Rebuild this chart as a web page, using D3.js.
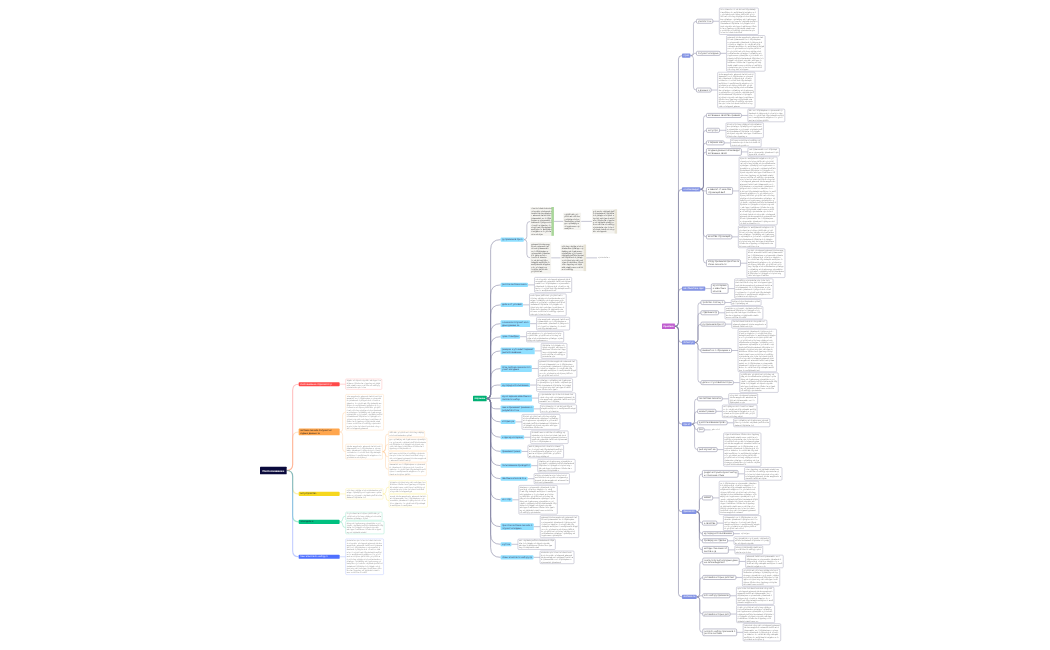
<!DOCTYPE html>
<html>
<head>
<meta charset="utf-8">
<script src="https://cdn.jsdelivr.net/npm/d3@7"></script>
<style>
  html, body { margin: 0; padding: 0; background: #fff; }
  svg { display: block; filter: blur(0.22px); }
  text { font-family: "Liberation Sans", sans-serif; text-rendering: geometricPrecision; }
</style>
</head>
<body>
<svg id="chart" width="1050" height="650"></svg>
<script>
// the words in the reference are too small to read, only their amount is taken from it
// every node is [characters per line, number of lines, children, kind]
var passage = "Распознавание образов это раздел который изучает методы отнесения объектов к одному из заранее известных классов по набору признаков при этом система сначала получает исходные данные затем выделяет важные свойства сравнивает их с образцами и принимает решение о результате точность зависит от качества обучающей выборки от выбранной модели и от условий в которых работает устройство поэтому перед использованием проводят проверку на отдельных примерах и уточняют параметры";

// left map
var leftRed = [27, 1, [[32, 4]]];
var leftOrange = [27, 2, [[32, 15], [32, 6, [[33, 2], [33, 5], [33, 4], [33, 5]]]]];
var leftYellow = [15, 1, [[32, 4, [[33, 5], [33, 5]]]]];
var leftGreen = [11, 1, [[32, 3], [32, 5]]];
var leftBlue = [24, 1, [[32, 15]]];
var leftBranches = [leftRed, leftOrange, leftYellow, leftGreen, leftBlue];

// middle map
var midPictures = [18, 1, [
  [19, 12, [[14, 7, [[20, 10, null, "tan"]], "pic"]], "green"],
  [16, 13, [[20, 11, [[11, 1, null, "plain"]], "tan"]], "pic"]
]];
var midLabelChars = [21, 18, 23, 14, 26, 24, 22, 25, 25, 10, 18, 14, 23, 21, 8, 26, 7, 26];
var midLabelLines = [1, 1, 2, 1, 2, 2, 1, 2, 2, 1, 1, 1, 1, 1, 1, 2, 1, 1];
var midNoteChars = [32, 31, 28, 32, 22, 32, 31, 32, 30, 32, 32, 31, 31, 30, 32, 32, 31, 29];
var midNoteLines = [6, 9, 5, 4, 6, 7, 5, 4, 3, 6, 5, 5, 5, 4, 12, 9, 4, 5];

// right map
var rightA = [5, 1, [
  [12, 1, [[33, 11]]], [18, 1, [[32, 15]]], [10, 1, [[32, 15]]]
]];
var rightB = [13, 1, [
  [27, 1, [[32, 5]]], [9, 1, [[32, 6]]], [13, 1, [[27, 3]]], [26, 2, [[27, 3]]],
  [22, 2, [[32, 29]]], [18, 1, [[32, 9]]], [27, 2, [[32, 12]]]
]];
var rightC = [18, 1, [[12, 3, [[33, 8]]]]];
var rightD = [9, 1, [
  [18, 1, [[25, 2]]], [12, 1, [[32, 5]]], [19, 1, [[30, 3]]], [25, 1, [[32, 18]]], [26, 1, [[32, 8]]]
]];
var rightE = [6, 1, [
  [18, 1, [[24, 4]]], [12, 1, [[30, 5]]], [22, 1, [[31, 3]]], [3, 1, [[8, 1, null, "plain"]]], [14, 1, [[32, 14]]]
]];
var rightF = [10, 1, [
  [28, 2, [[32, 5]]], [6, 1, [[33, 14]]], [10, 1, [[31, 6]]], [23, 1, [[8, 1, null, "plain"]]],
  [19, 1, [[31, 3]]], [19, 2, [[24, 3]]]
]];
var rightG = [10, 1, [
  [28, 2, [[32, 5]]], [27, 1, [[32, 7]]], [21, 1, [[32, 7]]], [21, 1, [[32, 7]]], [27, 2, [[32, 7]]]
]];
var rightBranches = [rightA, rightB, rightC, rightD, rightE, rightF, rightG];

var midBranches = [midPictures].concat(midLabelChars.map(function (c, i) {
  return [c, midLabelLines[i], [[midNoteChars[i], midNoteLines[i]]]];
}));

var leftFill = d3.scaleOrdinal().domain(d3.range(5)).range(["#ff4a4a", "#ffa64d", "#f6d71e", "#00c080", "#4f70ff"]);
var leftInk = d3.scaleOrdinal().domain(d3.range(5)).range(["#fff", "#222", "#333", "#123", "#fff"]);

var maps = [
  { rootText: "Распознавание", branches: leftBranches, rootX: 260, top: 379,
    rootFill: "#0a0a3c", rootSize: 2.9, rootPad: 2.4, gaps: [5, 1, 1, 1], hGap: [12, 6, 6, 6], labelDepth: 1, minLabel: 41 },
  { rootText: "Обучение", branches: midBranches, rootX: 473, top: 204.5,
    rootFill: "#00b074", rootSize: 2.2, rootPad: 1.5, gaps: [1.5, 1.5, 1.5, 1.5], hGap: [14, 6.5, 9.5, 11], labelDepth: 1, minLabel: 0 },
  { rootText: "Практика", branches: rightBranches, rootX: 662, top: 8,
    rootFill: "#c060d0", rootSize: 2.2, rootPad: 1.5, gaps: [1.2, 1, 1, 1], hGap: [7, 6, 6.5, 6.5], labelDepth: 2, minLabel: 0 }
];

var svg = d3.select("#chart");
var cursor = 0;

function takeWords(n) {
  // next n characters of the passage, no blank at the start
  var out = "";
  while (out.length < n) {
    var c = passage[cursor % passage.length];
    cursor++;
    if (out.length === 0 && c === " ") continue;
    out += c;
  }
  return out;
}

function makeLines(chars, count) {
  var rows = [];
  for (var i = 0; i < count; i++) {
    var n = (i === count - 1 && count > 1) ? Math.round(chars * 0.6) : chars;
    rows.push(takeWords(n));
  }
  return rows;
}

function linkPath(x0, y0, x1, y1, bend) {
  var p = d3.path();
  var dy = y1 - y0;
  var xm = x0 + Math.min(bend, (x1 - x0) / 2);
  if (Math.abs(dy) < 0.5) {
    p.moveTo(x0, y0);
    p.lineTo(x1, y1);
    return p.toString();
  }
  var s = dy > 0 ? 1 : -1;
  var r = Math.min(x1 - xm, Math.abs(dy) / 2);
  var r0 = Math.min(xm - x0, Math.abs(dy) / 2);
  p.moveTo(x0, y0);
  p.quadraticCurveTo(xm, y0, xm, y0 + s * r0);
  p.lineTo(xm, y1 - s * r);
  p.quadraticCurveTo(xm, y1, xm + r, y1);
  p.lineTo(x1, y1);
  return p.toString();
}

function drawMap(cfg, mapIndex) {
  var root = d3.hierarchy([0, 0, cfg.branches], function (d) { return d[2]; });
  var gLinks = svg.append("g");
  var gNodes = svg.append("g");

  root.eachBefore(function (n) {
    var kind = n.data[3] || "note";
    n.kind = n.depth === 0 ? "root" : (n.depth <= cfg.labelDepth ? "label" : kind);
    n.branch = n.depth === 0 ? 0 : (n.depth === 1 ? n.parent.children.indexOf(n) : n.parent.branch);
    var isLabel = n.kind === "label" || n.kind === "root";
    var size = n.kind === "root" ? cfg.rootSize : (isLabel ? 2.3 : 2.12);
    var lead = isLabel ? 2.7 : 2.3;
    var rows = n.kind === "root" ? [cfg.rootText] : makeLines(n.data[0], n.data[1]);
    n.g = gNodes.append("g");
    n.box = n.g.append("rect");
    var txt = n.g.append("text").attr("font-size", size)
      .attr("font-weight", n.kind === "root" ? 700 : 400);
    var maxW = 0;
    rows.forEach(function (row, i) {
      var ts = txt.append("tspan").text(row).attr("y", lead * i + size * 0.85);
      maxW = Math.max(maxW, ts.node().getComputedTextLength());
    });
    var padX = n.kind === "root" ? cfg.rootPad : (isLabel ? 1.5 : 1);
    var padY = n.kind === "root" ? cfg.rootPad : (isLabel ? 0.7 : 0.6);
    n.w = maxW + padX * 2;
    if (n.depth === 1 && cfg.minLabel) n.w = Math.max(n.w, cfg.minLabel);
    n.h = lead * rows.length + padY * 2;
    txt.selectAll("tspan").attr("x", padX).attr("dy", padY);
    n.txt = txt;
    n.extra = (n.kind === "pic" || n.kind === "green" || n.kind === "tan") ? 5 : 0;
  });

  // subtree heights, then walk down stacking the children
  root.eachAfter(function (n) {
    var own = n.h + n.extra;
    if (!n.children) { n.ext = own; return; }
    n.kidsH = d3.sum(n.children, function (c) { return c.ext; }) + cfg.gaps[n.depth] * (n.children.length - 1);
    n.ext = Math.max(own, n.kidsH);
  });

  root.x = cfg.rootX;
  root.top = cfg.top;
  root.eachBefore(function (n) {
    if (!n.children) return;
    var y = n.top + (n.ext - n.kidsH) / 2;
    n.children.forEach(function (c) {
      c.top = y;
      c.cy = y + c.ext / 2;
      c.x = n.x + n.w + cfg.hGap[n.depth];
      y += c.ext + cfg.gaps[n.depth];
    });
  });

  // a parent sits halfway between its first and last child
  root.eachAfter(function (n) {
    if (!n.children) return;
    n.cy = (n.children[0].cy + n.children[n.children.length - 1].cy) / 2;
  });

  // links
  root.links().forEach(function (l) {
    var d = l.source.depth;
    var stroke, width, op = 1;
    if (mapIndex === 0) {
      stroke = d === 0 ? leftFill(l.target.branch) : leftFill(l.source.branch);
      width = d === 0 ? 1.1 : 0.7;
      op = 0.35;
    } else {
      stroke = "#7c7c9c";
      width = d === 0 ? 0.8 : 0.55;
      op = d === 0 ? 0.7 : 0.8;
    }
    gLinks.append("path")
      .attr("d", linkPath(l.source.x + l.source.w, l.source.cy, l.target.x, l.target.cy, d === 0 ? (mapIndex === 0 ? 6 : 4) : 3))
      .attr("fill", "none")
      .attr("stroke", stroke)
      .attr("stroke-width", width)
      .attr("stroke-opacity", op);
  });

  // boxes and words
  root.each(function (n) {
    n.g.attr("transform", "translate(" + n.x + "," + (n.cy - n.h / 2) + ")");
    var fill = "#fff", stroke = "#a9a9bd", sw = 0.5, ink = "#888", rx = 0.9;
    if (n.kind === "root") {
      fill = cfg.rootFill; stroke = "none"; ink = "#fff"; rx = 0.6;
    } else if (n.kind === "label") {
      if (mapIndex === 0) {
        fill = leftFill(n.branch); stroke = "none"; ink = leftInk(n.branch);
      } else if (mapIndex === 1) {
        fill = "#8fdfff"; stroke = "none"; ink = "#446";
      } else if (n.depth === 1) {
        fill = "#8494e4"; stroke = "none"; ink = "#fff";
      } else {
        fill = "#fff"; stroke = "#8c8ca4"; sw = 0.55; ink = "#555"; rx = 1.1;
      }
    } else if (n.kind === "plain") {
      fill = "none"; stroke = "none"; ink = "#999";
    } else if (n.kind === "pic" || n.kind === "green" || n.kind === "tan") {
      fill = "#f4f3ef"; stroke = "none"; ink = "#555"; rx = 0.3;
    } else if (mapIndex === 0) {
      stroke = leftFill(n.branch); sw = 0.5; ink = "#999";
    }
    n.box.attr("width", n.w).attr("height", n.h).attr("rx", rx)
      .attr("fill", fill).attr("stroke", stroke).attr("stroke-width", sw)
      .attr("stroke-opacity", (mapIndex === 0 && n.kind === "note") ? 0.35 : 1);
    n.txt.attr("fill", ink);
    if (n.kind === "green" || n.kind === "tan") {
      n.g.append("rect").attr("x", n.w - 2.5).attr("width", 2.5).attr("height", n.h)
        .attr("fill", n.kind === "green" ? "#a9d79a" : "#e8e4d6");
    }
  });
}

maps.forEach(drawMap);
</script>
</body>
</html>
